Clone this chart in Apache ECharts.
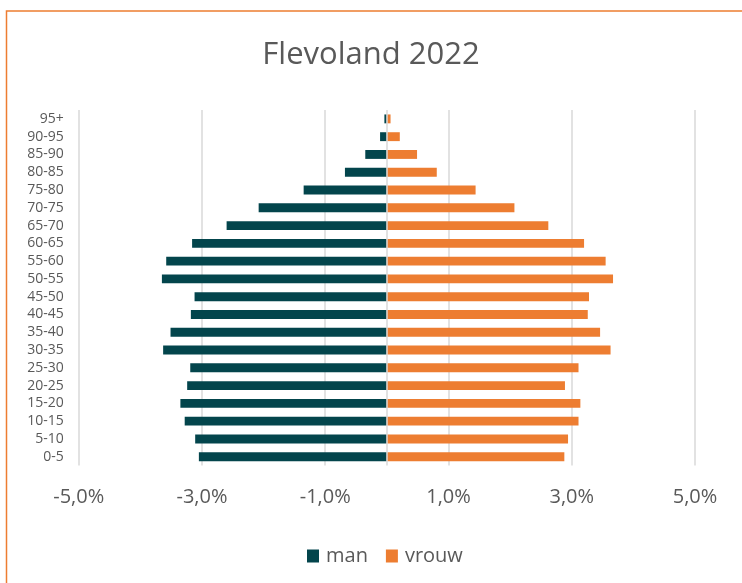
<!DOCTYPE html>
<html>
<head>
<meta charset="utf-8">
<script src="https://cdn.jsdelivr.net/npm/echarts@6/dist/echarts.min.js"></script>
<style>
  html, body { margin: 0; padding: 0; background: #fff; }
  #chart { width: 742px; height: 583px; }
</style>
</head>
<body>
<div id="chart"></div>
<script>
// leeftijdsgroepen, van onder naar boven
var ageGroups = ['0-5', '5-10', '10-15', '15-20', '20-25', '25-30', '30-35', '35-40', '40-45', '45-50',
  '50-55', '55-60', '60-65', '65-70', '70-75', '75-80', '80-85', '85-90', '90-95', '95+']
// percentage van totale bevolking (man negatief)
var manValues = [-3.05, -3.11, -3.28, -3.35, -3.24, -3.19, -3.63, -3.51, -3.18, -3.12,
  -3.65, -3.58, -3.16, -2.60, -2.08, -1.35, -0.68, -0.35, -0.11, -0.04]
var vrouwValues = [2.88, 2.94, 3.11, 3.14, 2.89, 3.11, 3.63, 3.46, 3.26, 3.28,
  3.67, 3.55, 3.20, 2.62, 2.07, 1.44, 0.81, 0.49, 0.21, 0.06]
var xTicks = { min: -5, max: 5, step: 2 }

var textColor = '#595959'
var font = '"Open Sans", sans-serif'

var myChart = echarts.init(document.getElementById('chart'))
var option = {
  animation: false,
  textStyle: { fontFamily: font },
  title: {
    text: 'Flevoland 2022',
    left: 'center',
    top: 35,
    textStyle: { color: textColor, fontSize: 31, fontWeight: 'normal', fontFamily: font }
  },
  graphic: [{
    type: 'rect',
    shape: { x: 6.5, y: 11, width: 800, height: 700 },
    style: { fill: 'none', stroke: '#ED7D31', lineWidth: 1.5 },
    silent: true
  }],
  legend: {
    left: 302,
    top: 541,
    itemWidth: 12,
    itemHeight: 13,
    itemGap: 18,
    icon: 'rect',
    textStyle: { color: textColor, fontSize: 20, fontFamily: font, padding: [0, 0, 0, 2] },
    data: ['man', 'vrouw']
  },
  grid: {
    left: 78.7,
    right: 47,
    top: 110,
    bottom: 117.4
  },
  xAxis: {
    type: 'value',
    min: xTicks.min,
    max: xTicks.max,
    interval: xTicks.step,
    axisLine: { show: false },
    axisTick: { show: false },
    splitLine: { show: true, lineStyle: { color: '#D9D9D9', width: 1.5 } },
    axisLabel: {
      color: textColor,
      fontSize: 20,
      fontFamily: font,
      margin: 22,
      formatter: function (v) {
        return v.toFixed(1).replace('.', ',') + '%'
      }
    }
  },
  yAxis: {
    type: 'category',
    data: ageGroups,
    axisLine: { show: false, onZero: false },
    axisTick: { show: false },
    axisLabel: { color: textColor, fontSize: 14, fontFamily: font, margin: 15, interval: 0 }
  },
  series: [{
    name: 'man',
    type: 'bar',
    data: manValues,
    barWidth: '50%',
    barGap: '-100%',
    itemStyle: { color: '#03454C' },
    markLine: {
      silent: true,
      symbol: 'none',
      label: { show: false },
      lineStyle: { color: '#D9D9D9', type: 'solid', width: 1.5 },
      data: [{ xAxis: 0 }]
    }
  }, {
    name: 'vrouw',
    type: 'bar',
    data: vrouwValues,
    barWidth: '50%',
    barGap: '-100%',
    itemStyle: { color: '#ED7D31' }
  }]
}
myChart.setOption(option)
</script>
</body>
</html>
